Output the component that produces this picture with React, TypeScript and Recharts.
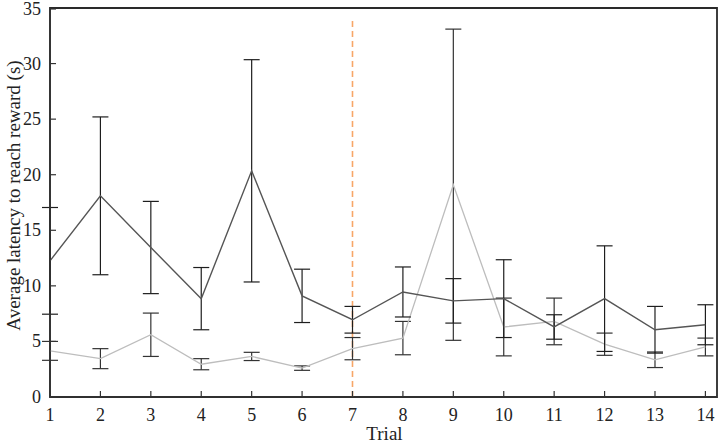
import React from "react";
import {
  LineChart,
  Line,
  XAxis,
  YAxis,
  ErrorBar,
  ReferenceLine,
  ReferenceArea,
} from "recharts";

const trials = [1, 2, 3, 4, 5, 6, 7, 8, 9, 10, 11, 12, 13, 14];
const darkMean = [12.25, 18.1, 13.45, 8.85, 20.35, 9.1, 6.95, 9.45, 8.65, 8.85, 6.3, 8.85, 6.05, 6.5];
const darkErr = [4.8, 7.1, 4.15, 2.8, 10.0, 2.4, 1.2, 2.25, 2.0, 3.5, 1.1, 4.75, 2.1, 1.8];
const lightMean = [4.15, 3.45, 5.6, 2.95, 3.65, 2.6, 4.35, 5.3, 19.1, 6.3, 6.8, 4.75, 3.35, 4.5];
const lightErr = [0.85, 0.9, 1.95, 0.5, 0.37, 0.2, 1.0, 1.5, 14.0, 2.6, 2.1, 1.0, 0.7, 0.8];
const xTicks = [1, 2, 3, 4, 5, 6, 7, 8, 9, 10, 11, 12, 13, 14];
const yTicks = [0, 5, 10, 15, 20, 25, 30, 35];
const xDomain = [1, 14.23];
const yDomain = [0, 35];
const markerTrial = 7;
const markerTop = 34.2;

const data = trials.map((t, i) => ({
  trial: t,
  dark: darkMean[i],
  darkErr: darkErr[i],
  light: lightMean[i],
  lightErr: lightErr[i],
}));

const textStyle: React.CSSProperties = {
  fontFamily: '"Liberation Serif", "DejaVu Serif", "Times New Roman", serif',
  fontSize: 18,
};
const TICK_MARGIN = 8;
const TICK_LEN = 6;

const YTick = (props: any) => {
  const { x, y, payload } = props;
  const ax = x + TICK_MARGIN;
  return (
    <g>
      <line x1={ax} y1={y} x2={ax + TICK_LEN} y2={y} stroke="#333" strokeWidth={1.2} />
      <text
        x={x - 1}
        y={y}
        textAnchor="end"
        dominantBaseline="central"
        style={textStyle}
        fill="#222"
      >
        {payload.value}
      </text>
    </g>
  );
};

const XTick = (props: any) => {
  const { x, y, payload } = props;
  const ay = y - TICK_MARGIN;
  return (
    <g>
      <line x1={x} y1={ay} x2={x} y2={ay - TICK_LEN} stroke="#333" strokeWidth={1.2} />
      <text
        x={x}
        y={y + 10}
        textAnchor="middle"
        dominantBaseline="central"
        style={textStyle}
        fill="#222"
      >
        {payload.value}
      </text>
    </g>
  );
};

const YLabel = (props: any) => {
  const vb = props.viewBox || {};
  const cx = 13;
  const cy = (vb.y ?? 8) + (vb.height ?? 389) / 2 - 7;
  return (
    <text
      x={cx}
      y={cy}
      transform={`rotate(-90, ${cx}, ${cy})`}
      textAnchor="middle"
      dominantBaseline="central"
      style={{ ...textStyle, fontSize: 19 }}
      fill="#222"
    >
      Average latency to reach reward (s)
    </text>
  );
};

const XLabel = (props: any) => {
  const vb = props.viewBox || {};
  const cx = (vb.x ?? 50) + (vb.width ?? 667) / 2 + 1;
  return (
    <text
      x={cx}
      y={433}
      textAnchor="middle"
      dominantBaseline="central"
      style={{ ...textStyle, fontSize: 19 }}
      fill="#222"
    >
      Trial
    </text>
  );
};

export default function App() {
  return (
    <div style={{ position: "absolute", left: 0, top: 0, background: "#fff" }}>
      <LineChart
        width={718}
        height={443}
        data={data}
        margin={{ top: 8, right: 1, bottom: 16, left: 0 }}
      >
        <XAxis
          dataKey="trial"
          type="number"
          domain={xDomain}
          ticks={xTicks}
          allowDataOverflow
          height={30}
          tickSize={0}
          tickMargin={TICK_MARGIN}
          tick={<XTick />}
          axisLine={{ stroke: "#333", strokeWidth: 1.5 }}
          tickLine={false}
          label={<XLabel />}
        />
        <YAxis
          type="number"
          domain={yDomain}
          ticks={yTicks}
          allowDataOverflow
          width={50}
          tickSize={0}
          tickMargin={TICK_MARGIN}
          tick={<YTick />}
          axisLine={{ stroke: "#333", strokeWidth: 1.5 }}
          tickLine={false}
          label={<YLabel />}
        />
        <ReferenceArea
          x1={xDomain[0]}
          x2={xDomain[1]}
          y1={yDomain[0]}
          y2={yDomain[1]}
          fill="none"
          stroke="#2a2a2a"
          strokeWidth={1.8}
        />
        <ReferenceLine
          segment={[
            { x: markerTrial, y: 0 },
            { x: markerTrial, y: markerTop },
          ]}
          stroke="#f7a668"
          strokeWidth={1.6}
          strokeDasharray="6 4"
        />
        <Line
          dataKey="light"
          stroke="#bdbdbd"
          strokeWidth={1.3}
          dot={false}
          isAnimationActive={false}
        >
          <ErrorBar dataKey="lightErr" width={8} stroke="#333" strokeWidth={1.2} direction="y" />
        </Line>
        <Line
          dataKey="dark"
          stroke="#555555"
          strokeWidth={1.4}
          dot={false}
          isAnimationActive={false}
        >
          <ErrorBar dataKey="darkErr" width={8} stroke="#1e1e1e" strokeWidth={1.2} direction="y" />
        </Line>
      </LineChart>
    </div>
  );
}
